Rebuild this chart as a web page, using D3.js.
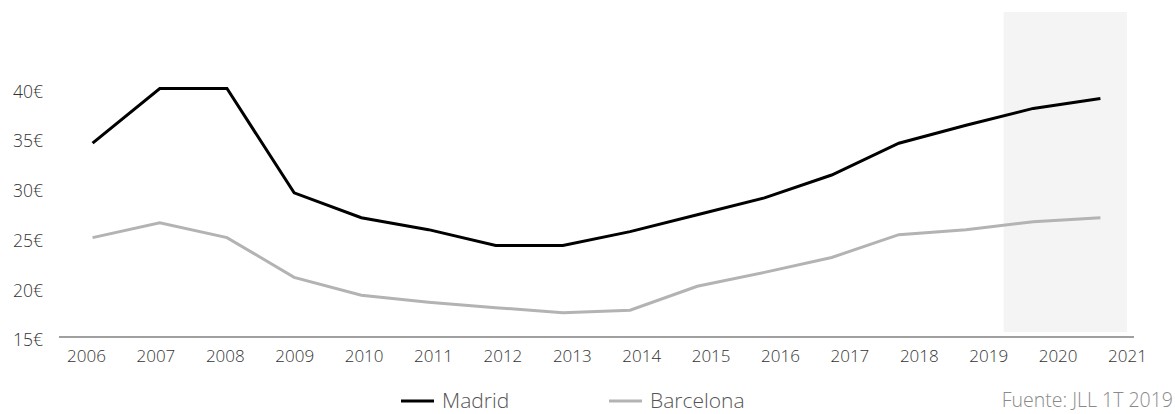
<!DOCTYPE html>
<html>
<head>
<meta charset="utf-8">
<script src="https://cdn.jsdelivr.net/npm/d3@7"></script>
<style>
  body { margin: 0; background: #fff; }
  svg { display: block; font-family: "Open Sans", sans-serif; font-weight: 300; }
</style>
</head>
<body>
<svg id="chart" width="1175" height="414"></svg>
<script>
// years on the category axis
var years = ["2006","2007","2008","2009","2010","2011","2012","2013",
             "2014","2015","2016","2017","2018","2019","2020","2021"];
// rent values (€/m2/month)
var madrid    = [34.5, 40.0, 40.0, 29.5, 27.0, 25.8, 24.2, 24.2,
                 25.6, 27.3, 29.0, 31.3, 34.5, 36.3, 38.0, 39.0];
var barcelona = [25.0, 26.5, 25.0, 21.0, 19.2, 18.5, 17.95, 17.45,
                 17.7, 20.1, 21.5, 23.0, 25.3, 25.8, 26.6, 27.0];
// y tick values
var yTicks = [15, 20, 25, 30, 35, 40];
// forecast years (shaded)
var shadeYears = ["2020", "2021"];

var svg = d3.select("#chart");

// scales
var x = d3.scaleBand().domain(years).range([59, 1134]);
var xLabel = d3.scalePoint().domain(years).range([86, 1127]);
var y = d3.scaleLinear().domain([15, 47.7]).range([337, 12]);

//shaded forecast area
svg.append("rect")
    .attr("x", x(shadeYears[0]) + 4)
    .attr("y", y.range()[1])
    .attr("width", x(shadeYears[shadeYears.length - 1]) + x.bandwidth() - x(shadeYears[0]) - 11)
    .attr("height", y(15.5) - y.range()[1])
    .attr("fill", "#f4f4f4");

//y axis labels (no axis line)
var yAxis = svg.append("g")
    .attr("transform", "translate(43,0)")
    .call(d3.axisLeft(y).tickValues(yTicks).tickSize(0).tickPadding(0)
        .tickFormat(function(d) { return d + "€"; }));
yAxis.select(".domain").remove();
yAxis.selectAll("text")
    .attr("dy", "0.5em")
    .style("font-family", "Open Sans, sans-serif")
    .style("font-weight", 300)
    .style("font-size", "17.5px")
    .style("fill", "#333");

//x axis line
svg.append("line")
    .attr("x1", x.range()[0]).attr("x2", x.range()[1])
    .attr("y1", y(15)).attr("y2", y(15))
    .attr("stroke", "#808080")
    .attr("stroke-width", 1.5);

//x axis labels
var xAxis = svg.append("g")
    .attr("transform", "translate(0," + y(15) + ")")
    .call(d3.axisBottom(xLabel).tickSize(0).tickPadding(13));
xAxis.select(".domain").remove();
xAxis.selectAll("text")
    .style("font-family", "Open Sans, sans-serif")
    .style("font-weight", 300)
    .style("font-size", "17px")
    .style("fill", "#333");

//lines
var line = function(values) {
    return d3.line()
        .x(function(d, i) { return x(years[i]) + x.bandwidth() / 2; })
        .y(function(d) { return y(d); })(values);
};

svg.append("path")
    .attr("d", line(barcelona))
    .attr("fill", "none")
    .attr("stroke", "#b3b3b3")
    .attr("stroke-width", 3);

svg.append("path")
    .attr("d", line(madrid))
    .attr("fill", "none")
    .attr("stroke", "#000")
    .attr("stroke-width", 3);

//legend
var legend = [
    { name: "Madrid", color: "#000", x: 401 },
    { name: "Barcelona", color: "#b3b3b3", x: 609 }
];
var lg = svg.selectAll(".legend").data(legend).enter().append("g")
    .attr("class", "legend")
    .attr("transform", function(d) { return "translate(" + d.x + ",401)"; });
lg.append("line")
    .attr("x1", 0).attr("x2", 33)
    .attr("stroke", function(d) { return d.color; })
    .attr("stroke-width", 3);
lg.append("text")
    .attr("x", 41)
    .attr("y", 7)
    .style("font-size", "21px")
    .style("fill", "#555")
    .text(function(d) { return d.name; });

//source
svg.append("text")
    .attr("x", 1173)
    .attr("y", 407)
    .attr("text-anchor", "end")
    .style("font-size", "19.5px")
    .style("fill", "#8a8a8a")
    .text("Fuente: JLL 1T 2019");
</script>
</body>
</html>
